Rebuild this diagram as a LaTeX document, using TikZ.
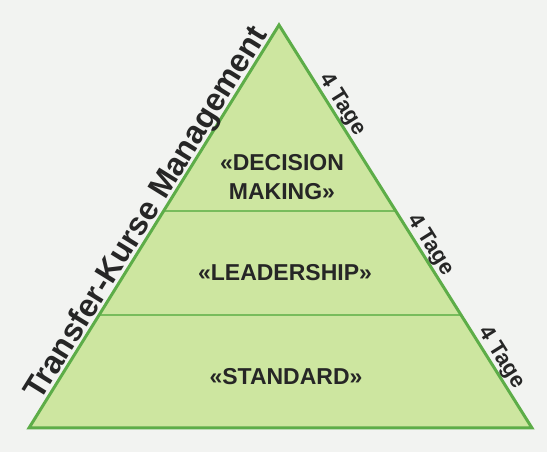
\documentclass[tikz,border=0pt]{standalone}
\usepackage{fontspec}
\setmainfont{Liberation Sans}
\usetikzlibrary{positioning,calc}
\definecolor{pyrfill}{HTML}{CDE6A0}
\definecolor{pyredge}{HTML}{5DAD48}
\definecolor{pyrline}{HTML}{78BC5C}
\definecolor{paper}{HTML}{F2F3F1}
\definecolor{ink}{HTML}{262626}

\begin{document}
\begin{tikzpicture}[x=1pt,y=1pt,
level/.style={font=\bfseries\fontsize{23}{29}\selectfont,align=center},
side/.style={font=\bfseries\fontsize{32}{36}\selectfont,anchor=base},
days/.style={font=\bfseries\fontsize{22}{26}\selectfont,anchor=base}]
\tikzstyle{every node}=[text=ink,inner sep=1pt]
    \fill[paper] (0,0) rectangle (547,452);

    % corners of the pyramid
    \coordinate (Top) at (279,427);
    \coordinate (BL) at (29,24);
    \coordinate (BR) at (532,24);

    \fill[pyrfill] (Top) -- (BL) -- (BR) -- cycle;
    % steps
    \draw[pyrline,line width=1.5pt] ($(Top)!0.4615!(BL)$) -- ($(Top)!0.4615!(BR)$);
    \draw[pyrline,line width=1.5pt] ($(Top)!0.72!(BL)$) -- ($(Top)!0.72!(BR)$);
    \draw[pyredge,line width=3pt] (Top) -- (BL) -- (BR) -- cycle;

    \node[level] (Decision) at (282,274.5) {«DECISION\\MAKING»};
    \node[level] (Leadership) at (285,179) {«LEADERSHIP»};
    \node[level] (Standard) at (286,75) {«STANDARD»};

    % Comments along the sides
    \path ($(BL)!0.515!(Top)$) ++(148.2:4) node[side,rotate=58.2] (Side) {Transfer-Kurse Management};
    \path ($(Top)!0.213!(BR)$) ++(32.1:6) node[days,rotate=-57.9] (TageA) {4 Tage};
    \path ($(Top)!0.561!(BR)$) ++(32.1:6) node[days,rotate=-57.9] (TageB) {4 Tage};
    \path ($(Top)!0.841!(BR)$) ++(32.1:6) node[days,rotate=-57.9] (TageC) {4 Tage};

\end{tikzpicture}
\end{document}
